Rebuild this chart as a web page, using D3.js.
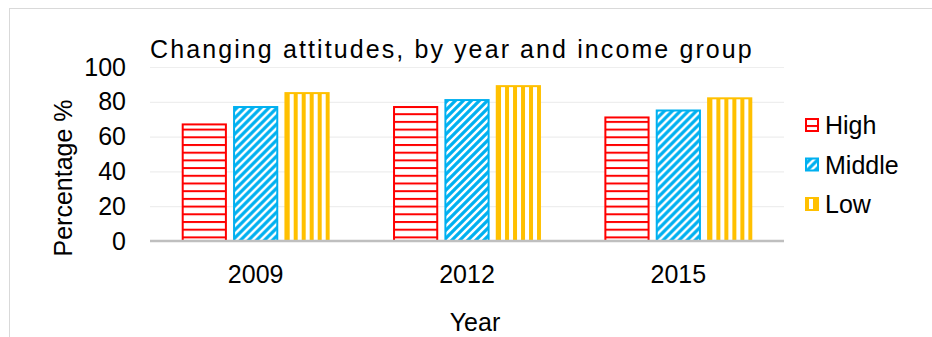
<!DOCTYPE html>
<html>
<head>
<meta charset="utf-8">
<script src="https://cdn.jsdelivr.net/npm/d3@7"></script>
<style>
  html, body { margin: 0; padding: 0; background: #fff; }
  svg { display: block; font-family: "Liberation Sans", Arial, sans-serif; }
</style>
</head>
<body>
<svg id="chart" width="932" height="337"></svg>
<script>
// Chart data
const years = ["2009", "2012", "2015"];
const groups = ["High", "Middle", "Low"];
const highValues = [67, 77, 71];
const middleValues = [77, 81, 75];
const lowValues = [85, 89, 82];
const yTicks = [0, 20, 40, 60, 80, 100];
const groupColors = ["#FF0000", "#00B0F0", "#FFC000"];

const seriesValues = [highValues, middleValues, lowValues];

const W = 932, H = 337;
const margin = { left: 150, right: 148, top: 67, bottom: 96 };
const plotW = W - margin.left - margin.right;
const plotH = H - margin.top - margin.bottom;

const svg = d3.select("#chart");

// Fill patterns for each income group
const defs = svg.append("defs");

const pHigh = defs.append("pattern")
  .attr("id", "pat-High").attr("patternUnits", "userSpaceOnUse")
  .attr("width", 8).attr("height", 7.7);
pHigh.append("rect").attr("width", 8).attr("height", 7.7).attr("fill", "#fff");
pHigh.append("rect").attr("y", 0).attr("width", 8).attr("height", 2).attr("fill", groupColors[0]);

const pMid = defs.append("pattern")
  .attr("id", "pat-Middle").attr("patternUnits", "userSpaceOnUse")
  .attr("width", 8).attr("height", 8);
pMid.append("rect").attr("width", 8).attr("height", 8).attr("fill", "#fff");
pMid.append("path").attr("d", "M-2,10 L10,-2 M-2,2 L2,-2 M6,10 L10,6")
  .attr("stroke", groupColors[1]).attr("stroke-width", 3.2);

const pLow = defs.append("pattern")
  .attr("id", "pat-Low").attr("patternUnits", "userSpaceOnUse")
  .attr("width", 8).attr("height", 8);
pLow.append("rect").attr("width", 8).attr("height", 8).attr("fill", "#fff");
pLow.append("rect").attr("x", 0).attr("width", 4).attr("height", 8).attr("fill", groupColors[2]);

// Outer chart frame
svg.append("rect")
  .attr("x", 9.5).attr("y", 8.5)
  .attr("width", W + 10).attr("height", H + 10)
  .attr("fill", "none").attr("stroke", "#d9d9d9").attr("stroke-width", 1);

const g = svg.append("g").attr("transform", `translate(${margin.left},${margin.top})`);

const x0 = d3.scaleBand().domain(years).range([0, plotW]).paddingInner(0.3).paddingOuter(0.15);
const x1 = d3.scaleBand().domain(groups).range([0, x0.bandwidth()]).paddingInner(0.12);
const y = d3.scaleLinear().domain([0, 100]).range([plotH, 0]);

// Gridlines
g.append("g").selectAll("line")
  .data(yTicks.filter(t => t > 0))
  .join("line")
  .attr("x1", 0).attr("x2", plotW)
  .attr("y1", d => y(d) + 0.5).attr("y2", d => y(d) + 0.5)
  .attr("stroke", "#eeeeee").attr("stroke-width", 1.2);

// Bars
const yearGroups = g.append("g").selectAll("g")
  .data(years)
  .join("g")
  .attr("transform", d => `translate(${x0(d)},0)`);

yearGroups.selectAll("rect")
  .data((yr, i) => groups.map((grp, k) => ({ grp, k, value: seriesValues[k][i] })))
  .join("rect")
  .attr("x", d => x1(d.grp) + 1)
  .attr("width", x1.bandwidth() - 2)
  .attr("y", d => y(d.value))
  .attr("height", d => plotH - y(d.value))
  .attr("fill", d => `url(#pat-${d.grp})`)
  .attr("stroke", d => groupColors[d.k])
  .attr("stroke-width", 2);

// Category axis line
g.append("line")
  .attr("x1", 0).attr("x2", plotW)
  .attr("y1", plotH).attr("y2", plotH)
  .attr("stroke", "#bfbfbf").attr("stroke-width", 2.5);

// Y tick labels
const yAxis = d3.axisLeft(y).tickValues(yTicks).tickSize(0).tickPadding(24);
const ya = g.append("g").call(yAxis);
ya.select(".domain").remove();
ya.selectAll("text").attr("font-size", 25).attr("fill", "#000")
  .attr("font-family", "Liberation Sans, Arial, sans-serif");

// X tick labels
const xAxis = d3.axisBottom(x0).tickSize(0).tickPadding(24);
const xa = g.append("g").attr("transform", `translate(0,${plotH})`).call(xAxis);
xa.select(".domain").remove();
xa.selectAll("text").attr("font-size", 25).attr("fill", "#000")
  .attr("font-family", "Liberation Sans, Arial, sans-serif");

// Title
svg.append("text")
  .attr("x", 150).attr("y", 58)
  .attr("font-size", 25).attr("letter-spacing", 2.1)
  .attr("fill", "#000")
  .text("Changing attitudes, by year and income group");

// Axis titles
svg.append("text")
  .attr("x", 475).attr("y", 331)
  .attr("text-anchor", "middle").attr("font-size", 25).attr("fill", "#000")
  .text("Year");

svg.append("text")
  .attr("transform", "translate(72,178) rotate(-90)")
  .attr("text-anchor", "middle").attr("font-size", 25).attr("fill", "#000")
  .text("Percentage %");

// Legend
const legend = svg.append("g").attr("transform", "translate(805,125)");
const li = legend.selectAll("g").data(groups).join("g")
  .attr("transform", (d, i) => `translate(0,${i * 39.5})`);
li.append("rect")
  .attr("x", 1).attr("y", -6).attr("width", 12).attr("height", 12)
  .attr("fill", d => `url(#pat-${d})`)
  .attr("stroke", (d, i) => groupColors[i]).attr("stroke-width", 2);
li.append("text")
  .attr("x", 20).attr("y", 9)
  .attr("font-size", 25).attr("fill", "#000")
  .text(d => d);
</script>
</body>
</html>
